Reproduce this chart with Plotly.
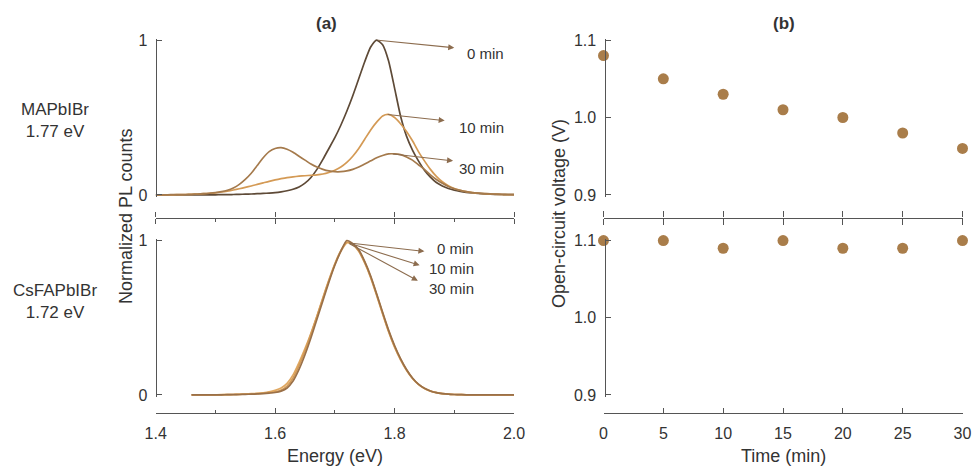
import plotly.graph_objects as go

# ---------------- data ----------------
energy_top = [1.40, 1.41, 1.42, 1.43, 1.44, 1.45, 1.46, 1.47, 1.48, 1.49,
              1.50, 1.51, 1.52, 1.53, 1.54, 1.55, 1.56, 1.57, 1.58, 1.59,
              1.60, 1.61, 1.62, 1.63, 1.64, 1.65, 1.66, 1.67, 1.68, 1.69,
              1.70, 1.71, 1.72, 1.73, 1.74, 1.75, 1.76, 1.77, 1.78, 1.79,
              1.80, 1.81, 1.82, 1.83, 1.84, 1.85, 1.86, 1.87, 1.88, 1.89,
              1.90, 1.91, 1.92, 1.93, 1.94, 1.95, 1.96, 1.97, 1.98, 1.99, 2.00]

pl_ma_0 = [0, 0, 0, 0, 0, 0, 0, 0, 0, 0.001,
           0.001, 0.002, 0.002, 0.003, 0.004, 0.005, 0.006, 0.008, 0.010, 0.012,
           0.015, 0.02, 0.027, 0.037, 0.052, 0.076, 0.113, 0.165, 0.23, 0.30,
           0.37, 0.45, 0.54, 0.64, 0.75, 0.86, 0.955, 1.00, 0.97, 0.865,
           0.69, 0.51, 0.38, 0.29, 0.22, 0.16, 0.115, 0.08, 0.058, 0.042,
           0.031, 0.023, 0.017, 0.013, 0.01, 0.007, 0.005, 0.004, 0.003, 0.002, 0.002]

pl_ma_10 = [0, 0, 0.001, 0.001, 0.002, 0.003, 0.004, 0.006, 0.008, 0.011,
            0.014, 0.019, 0.025, 0.032, 0.04, 0.049, 0.058, 0.068, 0.078, 0.088,
            0.097, 0.105, 0.112, 0.117, 0.121, 0.124, 0.127, 0.13, 0.135, 0.145,
            0.16, 0.18, 0.21, 0.25, 0.30, 0.36, 0.42, 0.47, 0.51, 0.52,
            0.50, 0.46, 0.41, 0.35, 0.28, 0.22, 0.165, 0.12, 0.085, 0.06,
            0.042, 0.03, 0.021, 0.015, 0.011, 0.008, 0.006, 0.004, 0.003, 0.002, 0.002]

pl_ma_30 = [0, 0.001, 0.001, 0.002, 0.002, 0.003, 0.004, 0.006, 0.008, 0.011,
            0.015, 0.021, 0.03, 0.045, 0.068, 0.10, 0.14, 0.19, 0.24, 0.28,
            0.30, 0.305, 0.295, 0.275, 0.25, 0.225, 0.2, 0.18, 0.165, 0.155,
            0.15, 0.15, 0.155, 0.165, 0.18, 0.2, 0.22, 0.24, 0.255, 0.265,
            0.265, 0.26, 0.245, 0.225, 0.195, 0.165, 0.13, 0.1, 0.075, 0.055,
            0.04, 0.03, 0.022, 0.016, 0.012, 0.009, 0.007, 0.005, 0.004, 0.003, 0.002]

energy_bottom = [1.46, 1.47, 1.48, 1.49, 1.50, 1.51, 1.52, 1.53, 1.54, 1.55,
                 1.56, 1.57, 1.58, 1.59, 1.60, 1.61, 1.62, 1.63, 1.64, 1.65,
                 1.66, 1.67, 1.68, 1.69, 1.70, 1.71, 1.72, 1.73, 1.74, 1.75,
                 1.76, 1.77, 1.78, 1.79, 1.80, 1.81, 1.82, 1.83, 1.84, 1.85,
                 1.86, 1.87, 1.88, 1.89, 1.90, 1.91, 1.92, 1.93, 1.94, 1.95,
                 1.96, 1.97, 1.98, 1.99, 2.00]

pl_cs_0 = [0, 0, 0, 0, 0.001, 0.001, 0.002, 0.002, 0.003, 0.004,
           0.005, 0.007, 0.009, 0.012, 0.016, 0.025, 0.045, 0.09, 0.165, 0.26,
           0.37, 0.49, 0.61, 0.73, 0.84, 0.93, 1.00, 0.98, 0.94, 0.865,
           0.77, 0.655, 0.535, 0.42, 0.32, 0.235, 0.165, 0.11, 0.07, 0.043,
           0.026, 0.015, 0.009, 0.005, 0.003, 0.002, 0.001, 0.001, 0.001, 0,
           0, 0, 0, 0, 0]

pl_cs_10 = [0, 0, 0, 0, 0.001, 0.001, 0.002, 0.003, 0.004, 0.005,
            0.006, 0.008, 0.011, 0.015, 0.02, 0.032, 0.058, 0.11, 0.19, 0.285,
            0.395, 0.51, 0.63, 0.745, 0.85, 0.935, 0.99, 0.975, 0.93, 0.855,
            0.76, 0.645, 0.525, 0.41, 0.31, 0.228, 0.16, 0.107, 0.068, 0.042,
            0.025, 0.015, 0.009, 0.005, 0.003, 0.002, 0.001, 0.001, 0, 0,
            0, 0, 0, 0, 0]

pl_cs_30 = [0, 0, 0, 0, 0.001, 0.002, 0.002, 0.003, 0.004, 0.006,
            0.008, 0.01, 0.014, 0.02, 0.03, 0.045, 0.075, 0.13, 0.21, 0.30,
            0.40, 0.51, 0.625, 0.74, 0.845, 0.93, 0.985, 0.975, 0.935, 0.86,
            0.765, 0.65, 0.53, 0.415, 0.315, 0.232, 0.163, 0.108, 0.069, 0.043,
            0.026, 0.015, 0.009, 0.005, 0.003, 0.002, 0.001, 0.001, 0, 0,
            0, 0, 0, 0, 0]

time_min = [0, 5, 10, 15, 20, 25, 30]
voc_ma = [1.08, 1.05, 1.03, 1.01, 1.00, 0.98, 0.96]
voc_cs = [1.10, 1.10, 1.09, 1.10, 1.09, 1.09, 1.10]

series_labels = ["0 min", "10 min", "30 min"]
energy_ticks = [1.4, 1.6, 1.8, 2.0]
energy_ticktext = ["1.4", "1.6", "1.8", "2.0"]
time_ticks = [0, 5, 10, 15, 20, 25, 30]
voc_ticks = [0.9, 1.0, 1.1]
voc_ticktext = ["0.9", "1.0", "1.1"]

# ---------------- style ----------------
W, H = 973, 466
FONT = "Arial, Liberation Sans, sans-serif"
TXT = "#333333"
AX = "#555555"
C0, C10, C30 = "#5e4a37", "#d49a55", "#a57a4c"
CB0, CB10, CB30 = "#9a7048", "#d39a55", "#e0a862"
MK = "#a97d4a"
ARR = "#8c6c4e"


def px_x(p):
    return p / W


def px_y(p):
    return 1 - p / H


LX = [px_x(155.7), px_x(514)]
RX = [px_x(603.5), px_x(962.5)]
TOPY = [px_y(196.5), px_y(38.5)]
BOTY = [px_y(396.5), px_y(239)]
MIDLINE = px_y(217.5)
BOTLINE = px_y(413)

fig = go.Figure()

for vals, col in [(pl_ma_0, C0), (pl_ma_10, C10), (pl_ma_30, C30)]:
    fig.add_trace(go.Scatter(x=energy_top, y=vals, mode="lines",
                             line=dict(color=col, width=1.7, shape="spline", smoothing=0.6),
                             xaxis="x", yaxis="y", showlegend=False, hoverinfo="skip"))
for vals, col in [(pl_cs_30, CB30), (pl_cs_10, CB10), (pl_cs_0, CB0)]:
    fig.add_trace(go.Scatter(x=energy_bottom, y=vals, mode="lines",
                             line=dict(color=col, width=1.7, shape="spline", smoothing=0.6),
                             xaxis="x3", yaxis="y3", showlegend=False, hoverinfo="skip"))
fig.add_trace(go.Scatter(x=[], y=[], xaxis="x2", yaxis="y", showlegend=False))
fig.add_trace(go.Scatter(x=[], y=[], xaxis="x5", yaxis="y4", showlegend=False))
fig.add_trace(go.Scatter(x=time_min, y=voc_ma, mode="markers",
                         marker=dict(color=MK, size=11), cliponaxis=False,
                         xaxis="x4", yaxis="y4", showlegend=False))
fig.add_trace(go.Scatter(x=time_min, y=voc_cs, mode="markers",
                         marker=dict(color=MK, size=11), cliponaxis=False,
                         xaxis="x6", yaxis="y6", showlegend=False))

tickfont = dict(family=FONT, size=16, color=TXT)
common_x = dict(showgrid=False, zeroline=False, showline=True, linecolor=AX, linewidth=1.3,
                tickcolor=AX, tickwidth=1.2, anchor="free", tickfont=tickfont, fixedrange=True,
                automargin=False)
common_y = dict(showgrid=False, zeroline=False, showline=True, linecolor=AX, linewidth=1.3,
                tickcolor=AX, tickwidth=1.2, anchor="free", ticks="inside", ticklen=5,
                tickfont=tickfont, ticklabelstandoff=5, fixedrange=True, automargin=False)

e_minor = dict(dtick=0.1, tick0=1.4, ticks="outside", ticklen=3, tickcolor=AX, tickwidth=1.1)

fig.update_layout(
    width=W, height=H, autosize=False,
    margin=dict(l=0, r=0, t=0, b=0, pad=0),
    paper_bgcolor="white", plot_bgcolor="rgba(0,0,0,0)",
    font=dict(family=FONT, color=TXT),
    xaxis=dict(common_x, domain=LX, range=[1.4, 2.0], position=MIDLINE, side="bottom",
               ticks="outside", ticklen=5, tickvals=energy_ticks, showticklabels=False,
               minor=e_minor),
    xaxis2=dict(common_x, domain=LX, range=[1.4, 2.0], position=MIDLINE, side="top",
                overlaying="x", ticks="outside", ticklen=5, tickvals=energy_ticks,
                showticklabels=False),
    yaxis=dict(common_y, domain=TOPY, range=[-0.01, 1.01], position=LX[0],
               tickvals=[0, 1], ticktext=["0", "1"]),
    xaxis3=dict(common_x, domain=LX, range=[1.4, 2.0], position=BOTLINE, side="bottom",
                ticks="inside", ticklen=5, tickvals=energy_ticks, ticktext=energy_ticktext,
                ticklabelstandoff=6,
                minor=dict(dtick=0.1, tick0=1.4, ticks="inside", ticklen=2.5, tickcolor=AX, tickwidth=1.1)),
    yaxis3=dict(common_y, domain=BOTY, range=[-0.01, 1.01], position=LX[0],
                tickvals=[0, 1], ticktext=["0", "1"]),
    xaxis4=dict(common_x, domain=RX, range=[0, 30], position=MIDLINE, side="bottom",
                ticks="outside", ticklen=6, tickvals=time_ticks, showticklabels=False),
    xaxis5=dict(common_x, domain=RX, range=[0, 30], position=MIDLINE, side="top",
                overlaying="x4", ticks="outside", ticklen=6, tickvals=time_ticks,
                showticklabels=False),
    yaxis4=dict(common_y, domain=TOPY, range=[0.898, 1.102], position=px_x(604.5),
                tickvals=voc_ticks, ticktext=voc_ticktext),
    xaxis6=dict(common_x, domain=RX, range=[0, 30], position=BOTLINE, side="bottom",
                ticks="inside", ticklen=5, tickvals=time_ticks, ticklabelstandoff=6),
    yaxis6=dict(common_y, domain=BOTY, range=[0.898, 1.102], position=px_x(604.5),
                tickvals=voc_ticks, ticktext=voc_ticktext),
)

ann = []


def txt(x, y, s, size=15, bold=False, xanchor="center", yanchor="middle", angle=0,
        xref="paper", yref="paper"):
    ann.append(dict(x=x, y=y, xref=xref, yref=yref, text=("<b>%s</b>" % s) if bold else s,
                    showarrow=False, xanchor=xanchor, yanchor=yanchor, textangle=angle,
                    font=dict(family=FONT, size=size, color=TXT)))


txt(px_x(326), px_y(23), "(a)", size=17, bold=True)
txt(px_x(784), px_y(23), "(b)", size=17, bold=True)
txt(px_x(55), px_y(120), "MAPbIBr<br>1.77 eV", size=17)
txt(px_x(55), px_y(301), "CsFAPbIBr<br>1.72 eV", size=17)
txt(px_x(126), px_y(217), "Normalized PL counts", size=18, angle=-90)
txt(px_x(559), px_y(214), "Open-circuit voltage (V)", size=18, angle=-90)
txt(px_x(335), px_y(456), "Energy (eV)", size=18)
txt(px_x(783), px_y(456), "Time (min)", size=18)

top_arrows = [((1.770, 1.00), (1.900, 0.95), 0.911),
              ((1.786, 0.52), (1.884, 0.48), 0.435),
              ((1.795, 0.265), (1.898, 0.22), 0.172)]
for (tail, head, ly), lab in zip(top_arrows, series_labels):
    ann.append(dict(x=head[0], y=head[1], ax=tail[0], ay=tail[1], xref="x", yref="y",
                    axref="x", ayref="y", showarrow=True, arrowhead=2, arrowsize=1.1,
                    arrowwidth=1.1, arrowcolor=ARR, text=""))
    txt(1.987, ly, lab, size=15, xanchor="right", xref="x", yref="y")

bot_arrows = [((1.722, 0.985), (1.850, 0.93), 0.947),
              ((1.722, 0.985), (1.842, 0.84), 0.818),
              ((1.722, 0.985), (1.839, 0.74), 0.689)]
for (tail, head, ly), lab in zip(bot_arrows, series_labels):
    ann.append(dict(x=head[0], y=head[1], ax=tail[0], ay=tail[1], xref="x3", yref="y3",
                    axref="x3", ayref="y3", showarrow=True, arrowhead=2, arrowsize=1.1,
                    arrowwidth=1.1, arrowcolor=ARR, text=""))
    txt(1.937, ly, lab, size=15, xanchor="right", xref="x3", yref="y3")

fig.update_layout(annotations=ann)

fig.write_html("out.html", config={"displayModeBar": False},
               post_script="document.body.style.margin='0px';document.body.style.overflow='hidden';")
